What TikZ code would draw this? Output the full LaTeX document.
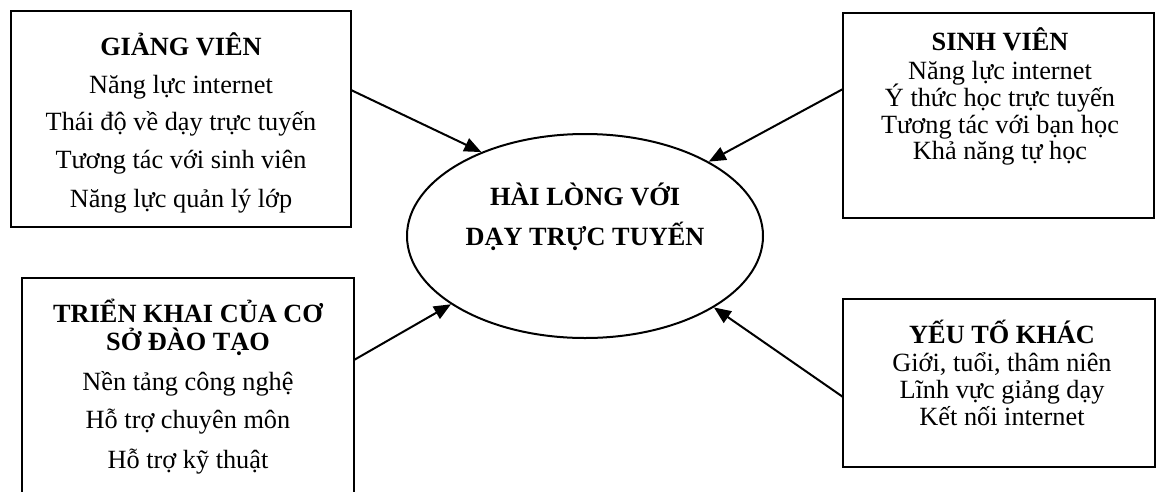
\documentclass[tikz,border=0pt]{standalone}
\usepackage{fontspec}
\setmainfont{Liberation Serif}
\usetikzlibrary{arrows.meta,shapes.geometric}
\begin{document}
\begin{tikzpicture}[x=1pt,y=-1pt,
  box/.style={draw,line width=2.6pt,rectangle,inner sep=0pt},
  txt/.style={anchor=base,inner sep=0pt,font=\fontsize{26.3}{30}\selectfont},
  ttl/.style={anchor=base,inner sep=0pt,font=\fontsize{26.3}{30}\selectfont\bfseries},
  arr/.style={line width=2pt,-{Triangle[length=17pt,width=14pt]}}]
\useasboundingbox (0,0) rectangle (1157,491);
\clip (0,0) rectangle (1157,491);
% boxes
\node[box,minimum width=340pt,minimum height=216pt] (gv) at (181,119) {};
\node[box,minimum width=311pt,minimum height=205pt] (sv) at (998.5,115.5) {};
\node[box,minimum width=332pt,minimum height=242pt] (tk) at (188,399) {};
\node[box,minimum width=312pt,minimum height=168pt] (yt) at (999,383) {};
\node[draw,ellipse,line width=2pt,inner sep=0pt,minimum width=356pt,minimum height=204pt] (ell) at (585,236) {};
% box 1 text
\node[ttl] (gv0) at (181,55) {GIẢNG VIÊN};
\node[txt] (gv1) at (181,93) {Năng lực internet};
\node[txt] (gv2) at (181,130) {Thái độ về dạy trực tuyến};
\node[txt] (gv3) at (181,168) {Tương tác với sinh viên};
\node[txt] (gv4) at (181,207) {Năng lực quản lý lớp};
% box 2 text
\node[ttl] (sv0) at (1000,50) {SINH VIÊN};
\node[txt] (sv1) at (1000,79) {Năng lực internet};
\node[txt] (sv2) at (1000,106) {Ý thức học trực tuyến};
\node[txt] (sv3) at (1000,133) {Tương tác với bạn học};
\node[txt] (sv4) at (1000,159) {Khả năng tự học};
% box 3 text
\node[ttl] (tk0) at (188,322) {TRIỂN KHAI CỦA CƠ};
\node[ttl] (tk1) at (188,350) {SỞ ĐÀO TẠO};
\node[txt] (tk2) at (188,390) {Nền tảng công nghệ};
\node[txt] (tk3) at (188,428) {Hỗ trợ chuyên môn};
\node[txt] (tk4) at (188,468) {Hỗ trợ kỹ thuật};
% box 4 text
\node[ttl] (yt0) at (1002,343) {YẾU TỐ KHÁC};
\node[txt] (yt1) at (1002,371) {Giới, tuổi, thâm niên};
\node[txt] (yt2) at (1002,398) {Lĩnh vực giảng dạy};
\node[txt] (yt3) at (1002,425) {Kết nối internet};
% ellipse text
\node[ttl] (e0) at (585,205) {HÀI LÒNG VỚI};
\node[ttl] (e1) at (585,245) {DẠY TRỰC TUYẾN};
% arrows
\coordinate (s1) at (351,90);
\coordinate (s2) at (843,89);
\coordinate (s3) at (354,360);
\coordinate (s4) at (843,397);
\draw[arr] (s1) -- (ell.141.8);
\draw[arr] (s2) -- (ell.31.2);
\draw[arr] (s3) -- (ell.207.3);
\draw[arr] (s4) -- (ell.331);
\end{tikzpicture}
\end{document}
